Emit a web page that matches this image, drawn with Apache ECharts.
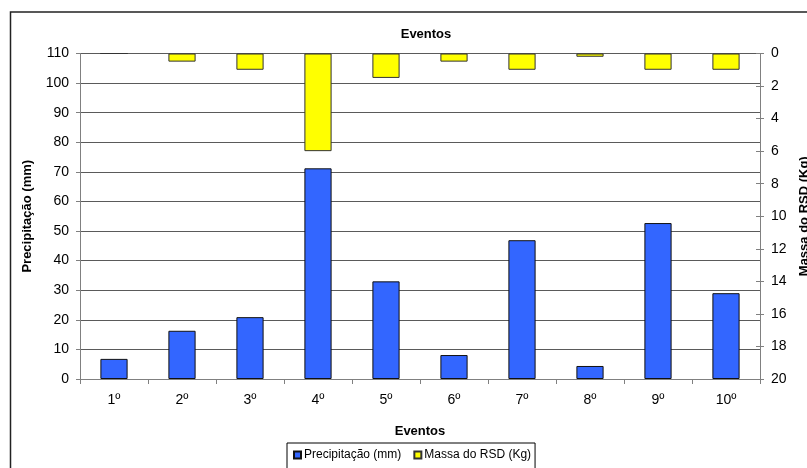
<!DOCTYPE html>
<html><head><meta charset="utf-8">
<script src="https://cdn.jsdelivr.net/npm/echarts@6/dist/echarts.min.js"></script>
<style>html,body{margin:0;padding:0;background:#fff}#c{width:807px;height:468px}</style>
</head><body><div id="c"></div>
<script>
const categories = ['1º','2º','3º','4º','5º','6º','7º','8º','9º','10º'];
const precipitacao = [6.8, 16.3, 20.9, 71.2, 33.0, 8.1, 46.9, 4.4, 52.7, 29.0];
const massaRSD = [0, 0.5, 1.0, 6.0, 1.5, 0.5, 1.0, 0.2, 1.0, 1.0];
const seriesNames = ['Precipitação (mm)', 'Massa do RSD (Kg)'];
const axisTitles = { top: 'Eventos', x: 'Eventos', left: 'Precipitação (mm)', right: 'Massa do RSD (Kg)' };

const FONT = '"Liberation Sans", Arial, sans-serif';
const chart = echarts.init(document.getElementById('c'), null, {renderer: 'canvas'});
chart.setOption({
  animation: false,
  backgroundColor: '#fff',
  textStyle: {fontFamily: FONT, color: '#000'},
  title: {
    text: axisTitles.top, left: 421, top: 23, textAlign: 'center',
    textStyle: {fontFamily: FONT, fontSize: 13, fontWeight: 'bold', color: '#000'}
  },
  graphic: [{
    type: 'rect', silent: true, z: 100,
    shape: {x: 10.5, y: 12, width: 900, height: 600},
    style: {fill: 'none', stroke: '#222', lineWidth: 1.5}
  }],
  legend: {
    left: 287, top: 443, orient: 'horizontal',
    padding: [6, 4, 10, 6], itemGap: 12, itemWidth: 7, itemHeight: 7,
    borderColor: '#000', borderWidth: 1,
    textStyle: {fontFamily: FONT, fontSize: 12, color: '#000', padding: [0, 0, 0, -2]},
    data: [{name: seriesNames[0], icon: 'rect'}, {name: seriesNames[1], icon: 'rect'}]
  },
  grid: {left: 80, right: 47, top: 53.5, bottom: 89, containLabel: false, outerBoundsMode: 'none'},
  xAxis: {
    type: 'category', data: categories, boundaryGap: true,
    name: axisTitles.x, nameLocation: 'middle', nameGap: 46,
    nameTextStyle: {fontFamily: FONT, fontSize: 13, fontWeight: 'bold', color: '#000'},
    axisLine: {lineStyle: {color: '#808080', width: 1}},
    axisTick: {show: true, length: 5, lineStyle: {color: '#808080'}},
    axisLabel: {fontFamily: FONT, fontSize: 14, color: '#000', margin: 14}
  },
  yAxis: [{
    type: 'value', min: 0, max: 110, interval: 10, position: 'left',
    name: axisTitles.left, nameLocation: 'middle', nameRotate: 90, nameGap: 46,
    nameTextStyle: {fontFamily: FONT, fontSize: 13, fontWeight: 'bold', color: '#000'},
    axisLine: {show: true, lineStyle: {color: '#808080'}},
    axisTick: {show: true, length: 4, lineStyle: {color: '#808080'}},
    axisLabel: {fontFamily: FONT, fontSize: 14, color: '#000', margin: 11},
    splitLine: {show: true, lineStyle: {color: '#5a5a5a', width: 1}}
  }, {
    type: 'value', min: 0, max: 20, interval: 2, inverse: true, position: 'right',
    name: axisTitles.right, nameLocation: 'middle', nameRotate: 90, nameGap: 35,
    nameTextStyle: {fontFamily: FONT, fontSize: 13, fontWeight: 'bold', color: '#000'},
    axisLine: {show: true, lineStyle: {color: '#808080'}},
    axisTick: {show: true, length: 4, lineStyle: {color: '#808080'}},
    axisLabel: {fontFamily: FONT, fontSize: 14, color: '#000', margin: 11},
    splitLine: {show: false}
  }, {
    type: 'value', min: 0, max: 20, interval: 2, inverse: true, position: 'right',
    axisLine: {show: false},
    axisTick: {show: true, inside: true, length: 4, lineStyle: {color: '#808080'}},
    axisLabel: {show: false},
    splitLine: {show: false}
  }],
  series: [{
    name: seriesNames[0], type: 'bar', yAxisIndex: 0, data: precipitacao,
    barWidth: '40%', barGap: '-100%',
    itemStyle: {color: '#3366FF', borderColor: '#111', borderWidth: 1}
  }, {
    name: seriesNames[1], type: 'bar', yAxisIndex: 1, data: massaRSD,
    barWidth: '40%', barGap: '-100%',
    itemStyle: {color: '#FFFF00', borderColor: '#333', borderWidth: 1}
  }]
});
</script></body></html>
